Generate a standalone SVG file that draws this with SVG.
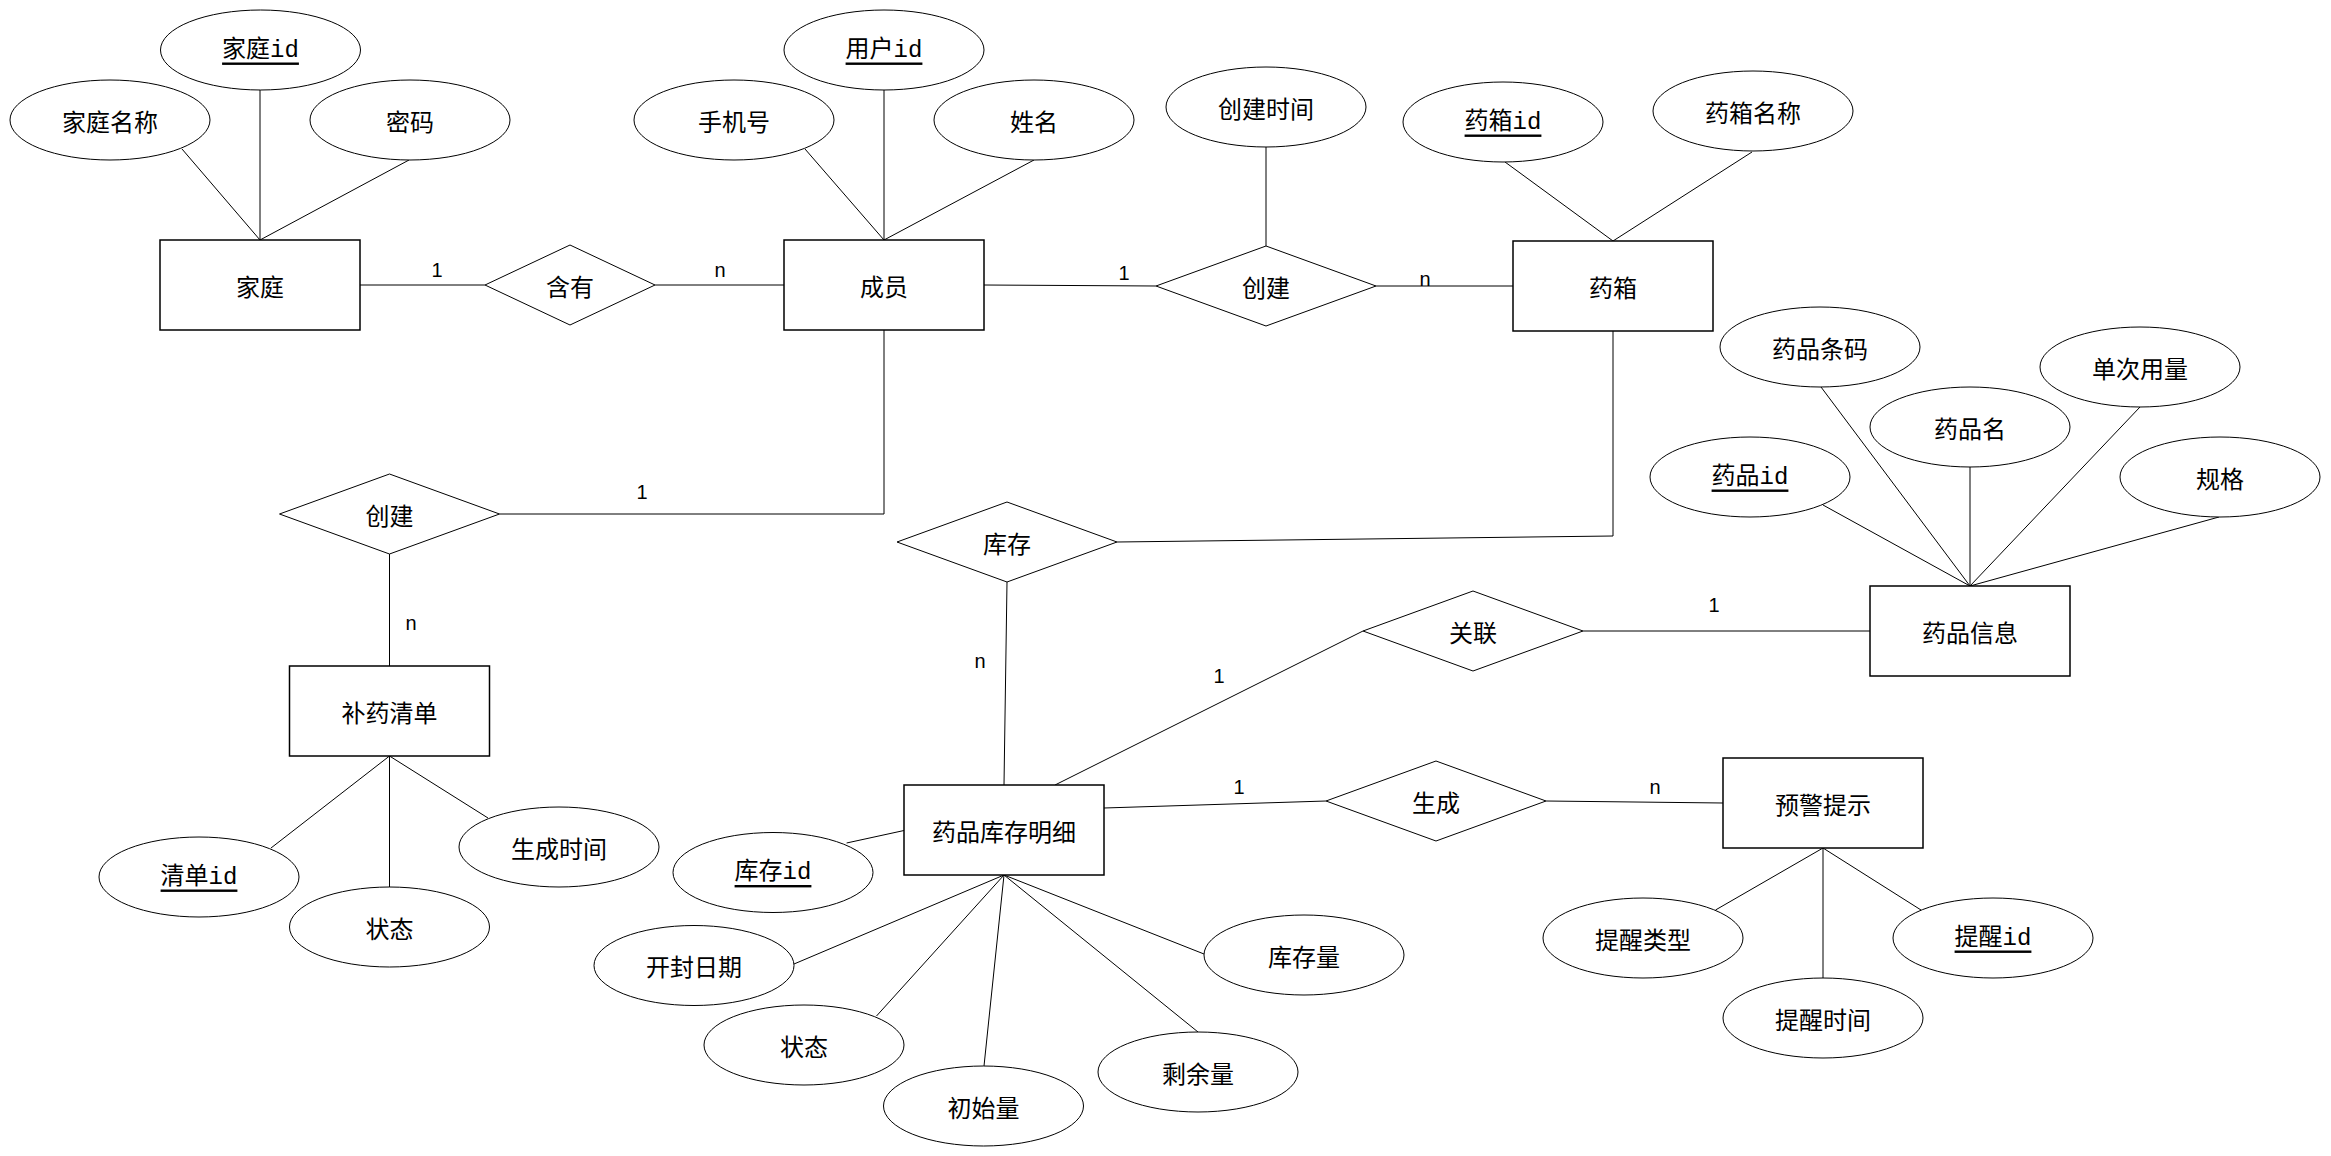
<svg xmlns="http://www.w3.org/2000/svg" width="2331" height="1156" viewBox="0 0 2331 1156">
<style>
.ent{fill:#fff;stroke:#000;stroke-width:1.5}
.attr{fill:#fff;stroke:#000;stroke-width:1}
.rel{fill:#fff;stroke:#000;stroke-width:1}
.conn line,.conn polyline{stroke:#000;stroke-width:1;fill:none}
text{font-family:"Noto Sans CJK SC","Noto Sans",sans-serif;font-size:24px;text-anchor:middle;dominant-baseline:central;fill:#000}
text.key{font-family:"Liberation Mono","Noto Sans CJK SC",monospace;text-decoration:underline}
text.lbl{font-family:"Liberation Sans",Arial,sans-serif;font-size:20px}
</style>
<rect x="0" y="0" width="2331" height="1156" fill="#fff"/>
<g id="connectors" class="conn">
<line x1="182" y1="149" x2="260" y2="240"/>
<line x1="260" y1="90" x2="260" y2="240"/>
<line x1="409" y1="160" x2="260" y2="240"/>
<line x1="360" y1="285" x2="485" y2="285"/>
<line x1="655" y1="285" x2="784" y2="285"/>
<line x1="805" y1="149" x2="884" y2="240"/>
<line x1="884" y1="90" x2="884" y2="240"/>
<line x1="1034" y1="160" x2="884" y2="240"/>
<line x1="984" y1="285" x2="1156" y2="286"/>
<line x1="1266" y1="147" x2="1266" y2="246"/>
<line x1="1376" y1="286" x2="1513" y2="286"/>
<line x1="1505" y1="162" x2="1613" y2="241"/>
<line x1="1752" y1="152" x2="1613" y2="241"/>
<polyline points="1613,331 1613,536 1117,542"/>
<polyline points="884,330 884,514 499.5,514"/>
<line x1="389.5" y1="554" x2="389.5" y2="666"/>
<line x1="389.5" y1="756" x2="271" y2="848"/>
<line x1="389.5" y1="756" x2="389.5" y2="887"/>
<line x1="389.5" y1="756" x2="488" y2="818"/>
<line x1="1007" y1="582" x2="1004" y2="785"/>
<line x1="1055" y1="785" x2="1363" y2="631"/>
<line x1="1104" y1="808" x2="1326" y2="801"/>
<line x1="1583" y1="631" x2="1870" y2="631"/>
<line x1="1546" y1="801" x2="1723" y2="803"/>
<line x1="904" y1="830.5" x2="846.6" y2="843"/>
<line x1="1004" y1="875" x2="794" y2="964"/>
<line x1="1004" y1="875" x2="876.5" y2="1016"/>
<line x1="1004" y1="875" x2="984" y2="1066"/>
<line x1="1004" y1="875" x2="1198" y2="1032"/>
<line x1="1004" y1="875" x2="1204" y2="954"/>
<line x1="1970" y1="586" x2="1823" y2="505"/>
<line x1="1970" y1="586" x2="1821" y2="387"/>
<line x1="1970" y1="586" x2="1970" y2="467"/>
<line x1="1970" y1="586" x2="2140" y2="407"/>
<line x1="1970" y1="586" x2="2219" y2="517"/>
<line x1="1823" y1="848" x2="1715.5" y2="910"/>
<line x1="1823" y1="848" x2="1823" y2="979"/>
<line x1="1823" y1="848" x2="1921" y2="910"/>
</g>
<g id="labels">
<text class="lbl" x="437" y="270">1</text>
<text class="lbl" x="720" y="270">n</text>
<text class="lbl" x="1124" y="273">1</text>
<text class="lbl" x="1425" y="279">n</text>
<text class="lbl" x="642" y="492">1</text>
<text class="lbl" x="411" y="623">n</text>
<text class="lbl" x="980" y="661">n</text>
<text class="lbl" x="1219" y="676">1</text>
<text class="lbl" x="1239" y="787">1</text>
<text class="lbl" x="1714" y="605">1</text>
<text class="lbl" x="1655" y="787">n</text>
</g>
<g id="family"><rect class="ent" x="160" y="240" width="200" height="90"/><text x="260" y="285">家庭</text></g>
<g id="member"><rect class="ent" x="784" y="240" width="200" height="90"/><text x="884" y="285">成员</text></g>
<g id="medbox"><rect class="ent" x="1513" y="241" width="200" height="90"/><text x="1613" y="286">药箱</text></g>
<g id="reorder"><rect class="ent" x="289.5" y="666" width="200" height="90"/><text x="389.5" y="711">补药清单</text></g>
<g id="stockdetail"><rect class="ent" x="904" y="785" width="200" height="90"/><text x="1004" y="830">药品库存明细</text></g>
<g id="druginfo"><rect class="ent" x="1870" y="586" width="200" height="90"/><text x="1970" y="631">药品信息</text></g>
<g id="alert"><rect class="ent" x="1723" y="758" width="200" height="90"/><text x="1823" y="803">预警提示</text></g>
<g id="rel-contain"><polygon class="rel" points="485,285 570,245 655,285 570,325"/><text x="570" y="285">含有</text></g>
<g id="rel-create-box"><polygon class="rel" points="1156,286 1266,246 1376,286 1266,326"/><text x="1266" y="286">创建</text></g>
<g id="rel-create-list"><polygon class="rel" points="279.5,514 389.5,474 499.5,514 389.5,554"/><text x="389.5" y="514">创建</text></g>
<g id="rel-stock"><polygon class="rel" points="897,542 1007,502 1117,542 1007,582"/><text x="1007" y="542">库存</text></g>
<g id="rel-assoc"><polygon class="rel" points="1363,631 1473,591 1583,631 1473,671"/><text x="1473" y="631">关联</text></g>
<g id="rel-gen"><polygon class="rel" points="1326,801 1436,761 1546,801 1436,841"/><text x="1436" y="801">生成</text></g>
<g id="a-family-id"><ellipse class="attr" cx="260.5" cy="50" rx="100" ry="40"/><text class="key" x="260.5" y="50">家庭id</text></g>
<g id="a-family-name"><ellipse class="attr" cx="110" cy="120" rx="100" ry="40"/><text x="110" y="120">家庭名称</text></g>
<g id="a-family-pwd"><ellipse class="attr" cx="410" cy="120" rx="100" ry="40"/><text x="410" y="120">密码</text></g>
<g id="a-user-id"><ellipse class="attr" cx="884" cy="50" rx="100" ry="40"/><text class="key" x="884" y="50">用户id</text></g>
<g id="a-phone"><ellipse class="attr" cx="734" cy="120" rx="100" ry="40"/><text x="734" y="120">手机号</text></g>
<g id="a-name"><ellipse class="attr" cx="1034" cy="120" rx="100" ry="40"/><text x="1034" y="120">姓名</text></g>
<g id="a-create-time"><ellipse class="attr" cx="1266" cy="107" rx="100" ry="40"/><text x="1266" y="107">创建时间</text></g>
<g id="a-box-id"><ellipse class="attr" cx="1503" cy="122" rx="100" ry="40"/><text class="key" x="1503" y="122">药箱id</text></g>
<g id="a-box-name"><ellipse class="attr" cx="1753" cy="111" rx="100" ry="40"/><text x="1753" y="111">药箱名称</text></g>
<g id="a-barcode"><ellipse class="attr" cx="1820" cy="347" rx="100" ry="40"/><text x="1820" y="347">药品条码</text></g>
<g id="a-dose"><ellipse class="attr" cx="2140" cy="367" rx="100" ry="40"/><text x="2140" y="367">单次用量</text></g>
<g id="a-drug-name"><ellipse class="attr" cx="1970" cy="427" rx="100" ry="40"/><text x="1970" y="427">药品名</text></g>
<g id="a-drug-id"><ellipse class="attr" cx="1750" cy="477" rx="100" ry="40"/><text class="key" x="1750" y="477">药品id</text></g>
<g id="a-spec"><ellipse class="attr" cx="2220" cy="477" rx="100" ry="40"/><text x="2220" y="477">规格</text></g>
<g id="a-list-id"><ellipse class="attr" cx="199" cy="877" rx="100" ry="40"/><text class="key" x="199" y="877">清单id</text></g>
<g id="a-list-status"><ellipse class="attr" cx="389.5" cy="927" rx="100" ry="40"/><text x="389.5" y="927">状态</text></g>
<g id="a-gen-time"><ellipse class="attr" cx="559" cy="847" rx="100" ry="40"/><text x="559" y="847">生成时间</text></g>
<g id="a-stock-id"><ellipse class="attr" cx="773" cy="872.5" rx="100" ry="40"/><text class="key" x="773" y="872.5">库存id</text></g>
<g id="a-open-date"><ellipse class="attr" cx="694" cy="965.5" rx="100" ry="40"/><text x="694" y="965.5">开封日期</text></g>
<g id="a-stock-status"><ellipse class="attr" cx="804" cy="1045" rx="100" ry="40"/><text x="804" y="1045">状态</text></g>
<g id="a-init-qty"><ellipse class="attr" cx="983.5" cy="1106" rx="100" ry="40"/><text x="983.5" y="1106">初始量</text></g>
<g id="a-remain"><ellipse class="attr" cx="1198" cy="1072" rx="100" ry="40"/><text x="1198" y="1072">剩余量</text></g>
<g id="a-stock-qty"><ellipse class="attr" cx="1304" cy="955" rx="100" ry="40"/><text x="1304" y="955">库存量</text></g>
<g id="a-alert-type"><ellipse class="attr" cx="1643" cy="938" rx="100" ry="40"/><text x="1643" y="938">提醒类型</text></g>
<g id="a-alert-time"><ellipse class="attr" cx="1823" cy="1018" rx="100" ry="40"/><text x="1823" y="1018">提醒时间</text></g>
<g id="a-alert-id"><ellipse class="attr" cx="1993" cy="938" rx="100" ry="40"/><text class="key" x="1993" y="938">提醒id</text></g>
</svg>
